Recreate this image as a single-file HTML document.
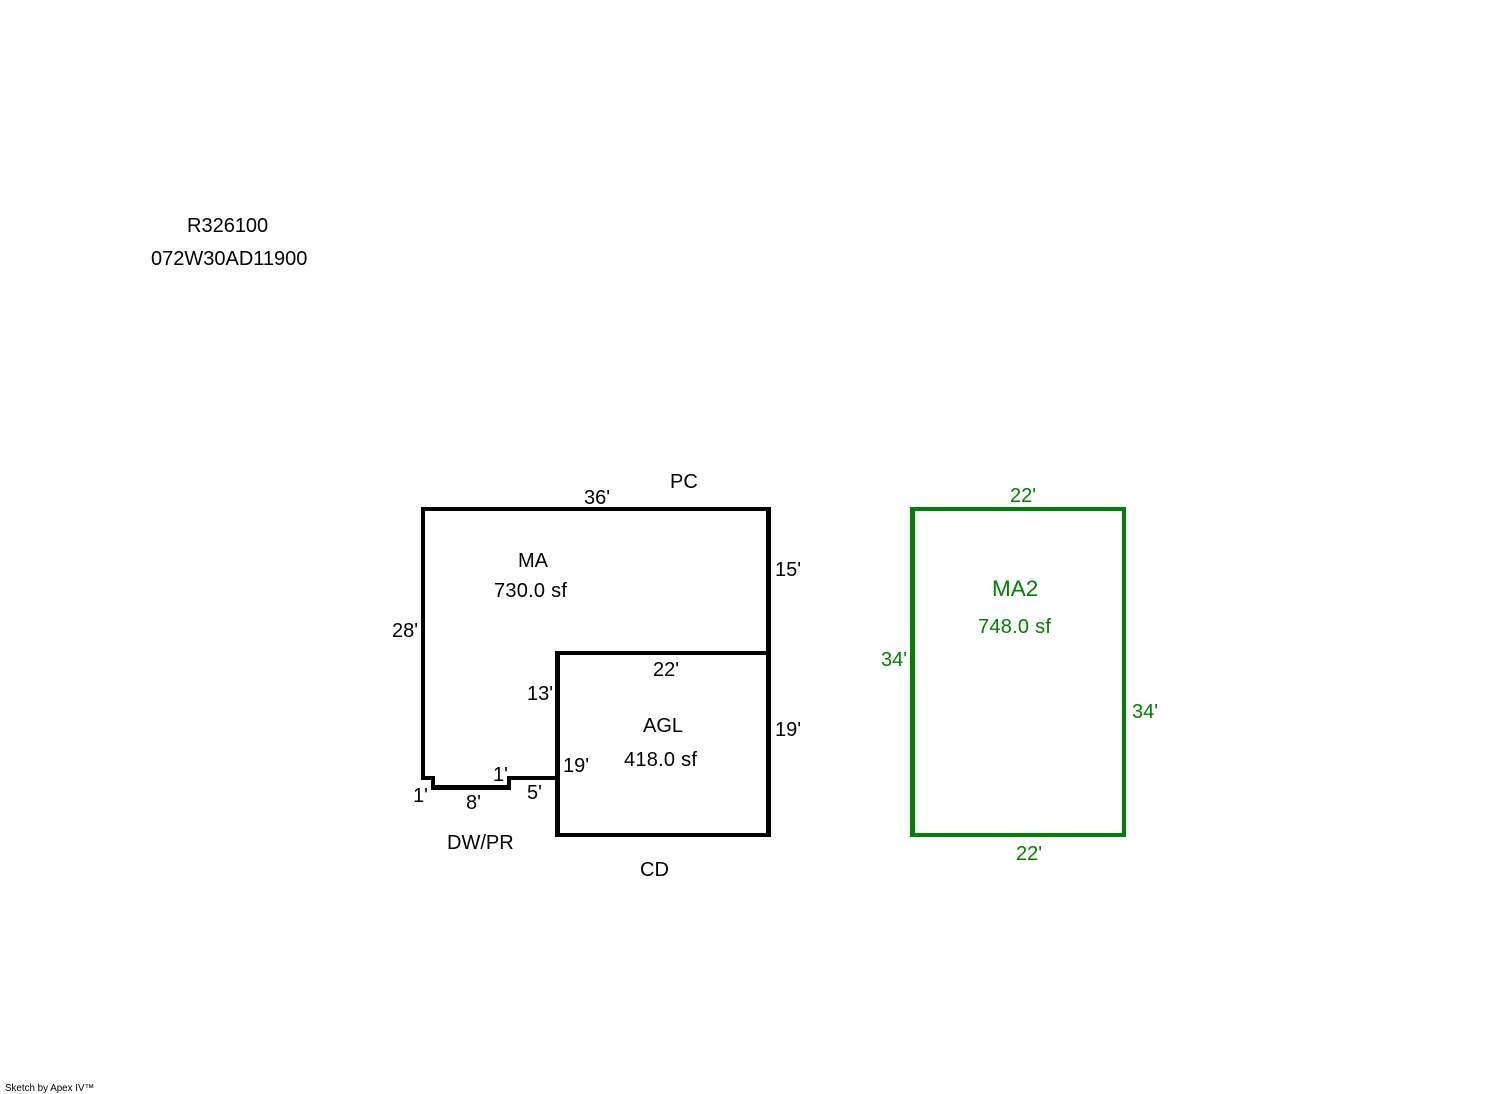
<!DOCTYPE html>
<html><head><meta charset="utf-8"><style>
html,body{margin:0;padding:0;background:#fff}
svg{display:block}
text{font-family:"Liberation Sans",Arial,sans-serif;font-size:20px;fill:#000}
.g text{fill:#008000}
.w{letter-spacing:.25px}
</style></head><body>
<svg width="1492" height="1094" viewBox="0 0 1492 1094" xmlns="http://www.w3.org/2000/svg">
<rect width="1492" height="1094" fill="#fff"/>
<g fill="#000" shape-rendering="crispEdges">
<rect x="421" y="507" width="350" height="4"/>
<rect x="421" y="507" width="4" height="273"/>
<rect x="421" y="776" width="14" height="4"/>
<rect x="431" y="776" width="4" height="14"/>
<rect x="431" y="785" width="80" height="5"/>
<rect x="507" y="776" width="4" height="14"/>
<rect x="507" y="776" width="53" height="4"/>
<rect x="555" y="651" width="5" height="186"/>
<rect x="555" y="651" width="216" height="4"/>
<rect x="555" y="833" width="216" height="4"/>
<rect x="766" y="507" width="5" height="330"/>
</g>
<g fill="#008000" shape-rendering="crispEdges">
<rect x="910" y="507" width="216" height="4"/>
<rect x="910" y="833" width="216" height="4"/>
<rect x="910" y="507" width="5" height="330"/>
<rect x="1122" y="507" width="4" height="330"/>
</g>
<text x="187" y="232">R326100</text>
<text x="151" y="265">072W30AD11900</text>
<text x="670" y="488">PC</text>
<text x="584" y="504">36'</text>
<text x="518" y="567">MA</text>
<text x="494" y="597" class="w">730.0 sf</text>
<text x="775" y="576">15'</text>
<text x="392" y="637">28'</text>
<text x="653" y="676">22'</text>
<text x="527" y="700">13'</text>
<text x="643" y="732">AGL</text>
<text x="775" y="736">19'</text>
<text x="624" y="766" class="w">418.0 sf</text>
<text x="563" y="772">19'</text>
<text x="493" y="781">1'</text>
<text x="527" y="799">5'</text>
<text x="413" y="802">1'</text>
<text x="466" y="809">8'</text>
<text x="447" y="849">DW/PR</text>
<text x="640" y="876">CD</text>
<g class="g">
<text x="1010" y="502">22'</text>
<text x="992" y="596" style="font-size:22.5px">MA2</text>
<text x="978" y="633" class="w">748.0 sf</text>
<text x="881" y="666">34'</text>
<text x="1132" y="718">34'</text>
<text x="1016" y="860">22'</text>
</g>
<text x="5" y="1091" style="font-size:9.8px">Sketch by Apex IV™</text>
</svg>
</body></html>
